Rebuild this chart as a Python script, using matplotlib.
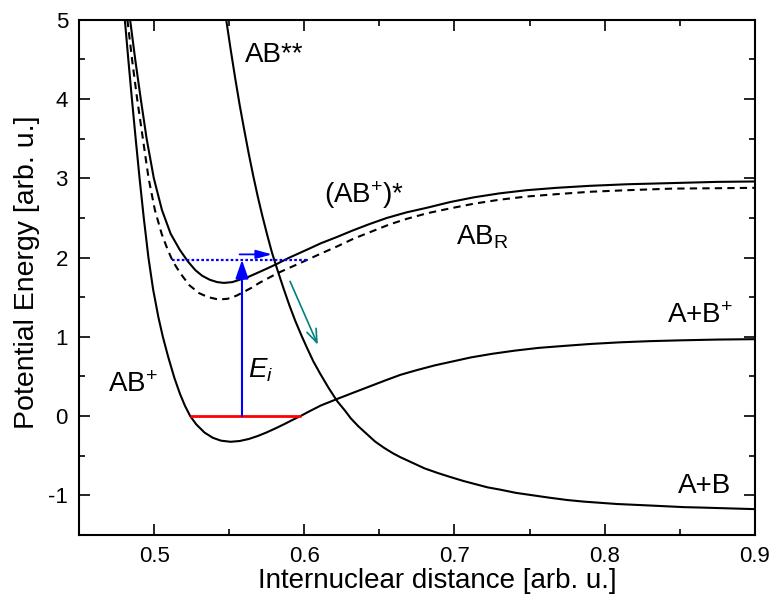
import matplotlib
matplotlib.use("Agg")
import matplotlib.pyplot as plt
from matplotlib.ticker import MultipleLocator

plt.rcParams['font.family'] = ['Liberation Sans', 'DejaVu Sans']
plt.rcParams['mathtext.fontset'] = 'custom'
plt.rcParams['mathtext.rm'] = 'Liberation Sans'
plt.rcParams['mathtext.it'] = 'Liberation Sans:italic'
plt.rcParams['mathtext.bf'] = 'Liberation Sans:bold'

# ---- data ----
# AB+ (ground ionic state)
ab_ion_x = [0.4805, 0.4828, 0.4852, 0.4877, 0.4903, 0.4931, 0.4962, 0.4993, 0.5028, 0.5058,
            0.5093, 0.5135, 0.5172, 0.5205, 0.5240, 0.5280, 0.5335, 0.5390, 0.5445, 0.5510,
            0.5570, 0.5630, 0.5690, 0.5750, 0.5810, 0.5870, 0.5930, 0.5975, 0.6030, 0.6110,
            0.6218, 0.6320, 0.6430, 0.6540, 0.6640, 0.6750, 0.6870, 0.6990, 0.7110, 0.7250,
            0.7400, 0.7560, 0.7730, 0.7910, 0.8100, 0.8300, 0.8500, 0.8750, 0.9000]
ab_ion_y = [5.00, 4.50, 4.00, 3.50, 3.00, 2.50, 2.00, 1.60, 1.25, 1.00,
            0.75, 0.48, 0.28, 0.13, 0.00, -0.104, -0.208, -0.274, -0.311, -0.325,
            -0.315, -0.290, -0.252, -0.206, -0.154, -0.099, -0.041, 0.00, 0.056, 0.133,
            0.215, 0.29, 0.37, 0.45, 0.52, 0.58, 0.64, 0.69, 0.74, 0.785,
            0.825, 0.86, 0.885, 0.91, 0.93, 0.945, 0.955, 0.965, 0.97]

# (AB+)* (excited ionic state)
ab_exc_x = [0.4840, 0.4874, 0.4911, 0.4950, 0.4998, 0.5052, 0.5110, 0.5170, 0.5225, 0.5275,
            0.5320, 0.5370, 0.5420, 0.5465, 0.5520, 0.5570, 0.5620, 0.5680, 0.5750, 0.5818,
            0.5890, 0.5960, 0.6030, 0.6110, 0.6218, 0.6320, 0.6430, 0.6550, 0.6680, 0.6820,
            0.6970, 0.7129, 0.7300, 0.7480, 0.7680, 0.7900, 0.8150, 0.8450, 0.8750, 0.9000]
ab_exc_y = [5.00, 4.50, 4.00, 3.50, 3.00, 2.60, 2.30, 2.10, 1.95, 1.84,
            1.77, 1.72, 1.69, 1.68, 1.69, 1.72, 1.75, 1.80, 1.86, 1.92,
            1.99, 2.05, 2.11, 2.18, 2.26, 2.34, 2.42, 2.50, 2.57, 2.63,
            2.70, 2.76, 2.81, 2.85, 2.88, 2.905, 2.925, 2.94, 2.955, 2.96]

# AB_R (dashed)
ab_r_x = [0.4822, 0.4853, 0.4887, 0.4925, 0.4963, 0.5005, 0.5050, 0.5090, 0.5125, 0.5175,
          0.5235, 0.5300, 0.5360, 0.5430, 0.5490, 0.5550, 0.5600, 0.5650, 0.5700, 0.5760,
          0.5818, 0.5900, 0.5960, 0.6018, 0.6110, 0.6218, 0.6330, 0.6450, 0.6570, 0.6685,
          0.6820, 0.6970, 0.7130, 0.7300, 0.7480, 0.7680, 0.7900, 0.8150, 0.8450, 0.8750,
          0.9000]
ab_r_y = [5.00, 4.50, 4.00, 3.50, 3.00, 2.60, 2.30, 2.10, 1.95, 1.80,
          1.65, 1.55, 1.50, 1.47, 1.48, 1.52, 1.57, 1.62, 1.68, 1.74,
          1.80, 1.87, 1.92, 1.97, 2.05, 2.14, 2.24, 2.33, 2.42, 2.49,
          2.56, 2.62, 2.68, 2.73, 2.77, 2.80, 2.83, 2.85, 2.87, 2.875,
          2.88]

# AB** (repulsive)
ab_ss_x = [0.5480, 0.5510, 0.5540, 0.5570, 0.5600, 0.5630, 0.5660, 0.5690, 0.5720, 0.5755,
           0.5785, 0.5820, 0.5860, 0.5900, 0.5940, 0.5980, 0.6018, 0.6060, 0.6107, 0.6160,
           0.6218, 0.6270, 0.6310, 0.6360, 0.6418, 0.6470, 0.6530, 0.6590, 0.6640, 0.6720,
           0.6800, 0.6890, 0.6973, 0.7060, 0.7140, 0.7220, 0.7307, 0.7410, 0.7520, 0.7630,
           0.7751, 0.7860, 0.7970, 0.8080, 0.8195, 0.8310, 0.8420, 0.8530, 0.8640, 0.8820,
           0.9000]
ab_ss_y = [5.00, 4.62, 4.26, 3.92, 3.61, 3.31, 3.03, 2.77, 2.53, 2.27,
           2.06, 1.85, 1.62, 1.40, 1.20, 1.02, 0.86, 0.69, 0.53, 0.36,
           0.19, 0.07, -0.03, -0.13, -0.23, -0.32, -0.40, -0.47, -0.52, -0.59,
           -0.66, -0.72, -0.77, -0.82, -0.86, -0.90, -0.93, -0.97, -1.00, -1.03,
           -1.06, -1.08, -1.095, -1.11, -1.12, -1.13, -1.14, -1.15, -1.155, -1.165,
           -1.175]

red_level_x = [0.524, 0.5975]
red_level_y = [0.0, 0.0]
ei_arrow_x = [0.5585, 0.5585]
ei_arrow_y = [0.0, 1.97]
dotted_x = [0.5118, 0.6018]
dotted_y = [1.97, 1.97]
small_arrow_x = [0.5569, 0.5785]
small_arrow_y = [2.04, 2.04]
teal_arrow_x = [0.5905, 0.609]
teal_arrow_y = [1.70, 0.90]

xticks = [0.5, 0.6, 0.7, 0.8, 0.9]
yticks = [-1, 0, 1, 2, 3, 4, 5]

# ---- figure ----
fig = plt.figure(figsize=(7.75, 6.01), dpi=100)
ax = fig.add_axes([0.102, 0.110, 0.872, 0.857])

lw = 1.5
ax.plot(ab_ion_x, ab_ion_y, color='black', lw=lw)
ax.plot(ab_exc_x, ab_exc_y, color='black', lw=lw)
ax.plot(ab_r_x, ab_r_y, color='black', lw=lw, dashes=(3.5, 2.5))
ax.plot(ab_ss_x, ab_ss_y, color='black', lw=lw)

ax.plot(red_level_x, red_level_y, color='#ff0000', lw=2.0, solid_capstyle='butt')
ax.plot(dotted_x, dotted_y, color='#0000ff', lw=1.6, dashes=(1.2, 1.0))

ax.annotate('', xy=(ei_arrow_x[1], ei_arrow_y[1]), xytext=(ei_arrow_x[0], ei_arrow_y[0]),
            arrowprops=dict(arrowstyle='-|>,head_length=0.8,head_width=0.28',
                            mutation_scale=14, color='#0000ff', lw=1.5,
                            shrinkA=0, shrinkB=0))
ax.annotate('', xy=(small_arrow_x[1], small_arrow_y[1]), xytext=(small_arrow_x[0], small_arrow_y[0]),
            arrowprops=dict(arrowstyle='-|>,head_length=0.8,head_width=0.22',
                            mutation_scale=12, color='#0000ff', lw=1.3,
                            shrinkA=0, shrinkB=0))
ax.annotate('', xy=(teal_arrow_x[1], teal_arrow_y[1]), xytext=(teal_arrow_x[0], teal_arrow_y[0]),
            arrowprops=dict(arrowstyle='->,head_length=0.8,head_width=0.3',
                            mutation_scale=12, color='#008080', lw=1.2,
                            shrinkA=0, shrinkB=0))

fs = 20
ax.text(0.5607, 4.474, 'AB**', fontsize=fs, ha='left', va='baseline')
ax.text(0.613, 2.69, '(AB$^{+}$)*', fontsize=fs, ha='left', va='baseline')
ax.text(0.7007, 2.16, 'AB$_{\\mathrm{R}}$', fontsize=fs, ha='left', va='baseline')
ax.text(0.8418, 1.174, 'A+B$^{+}$', fontsize=fs, ha='left', va='baseline')
ax.text(0.849, -0.972, 'A+B', fontsize=fs, ha='left', va='baseline')
ax.text(0.469, 0.307, 'AB$^{+}$', fontsize=fs, ha='left', va='baseline')
ax.text(0.5627, 0.48, '$E_{i}$', fontsize=fs, ha='left', va='baseline')

ax.set_xlim(0.45, 0.9)
ax.set_ylim(-1.5, 5)
ax.set_xticks(xticks)
ax.set_yticks(yticks)
ax.set_xticklabels([f'{v:g}' for v in xticks])
ax.set_yticklabels([f'{v:g}' for v in yticks])
ax.xaxis.set_minor_locator(MultipleLocator(0.05))
ax.yaxis.set_minor_locator(MultipleLocator(0.5))
ax.tick_params(which='both', direction='in', top=True, right=True, width=1.2,
               labelsize=16, pad=8)
ax.tick_params(which='major', length=8)
ax.tick_params(which='minor', length=4)
for s in ax.spines.values():
    s.set_linewidth(1.5)

ax.set_xlabel('Internuclear distance [arb. u.]', fontsize=20)
ax.xaxis.set_label_coords(0.53, -0.065, transform=ax.transAxes)
ax.xaxis.label.set_va('top')
ax.set_ylabel('Potential Energy [arb. u.]', fontsize=20.5)
ax.yaxis.set_label_coords(-0.058, 0.51, transform=ax.transAxes)

fig.savefig('out.png', dpi=100)
